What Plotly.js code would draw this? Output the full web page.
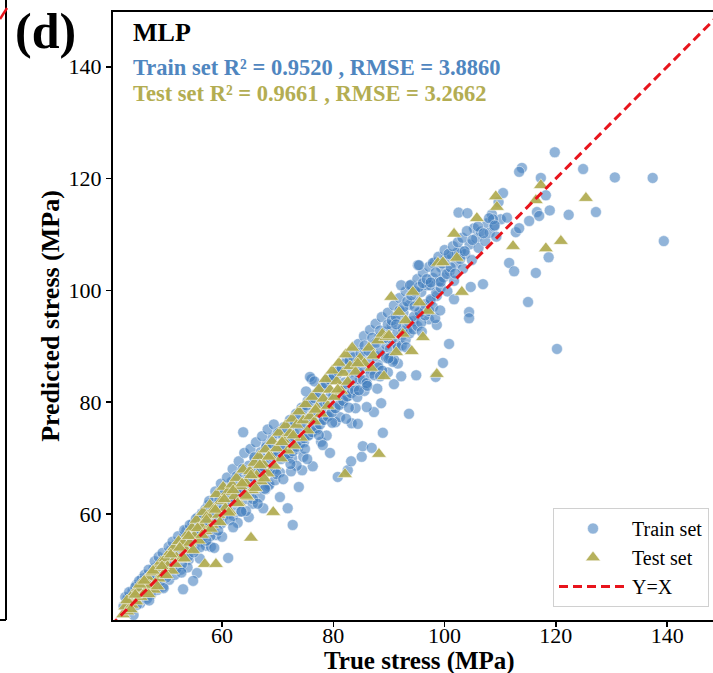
<!DOCTYPE html>
<html><head><meta charset="utf-8">
<script src="https://cdn.plot.ly/plotly-3.0.1.min.js"></script>
<style>html,body{margin:0;padding:0;overflow:hidden;background:#fff;width:713px;height:673px}#chart{width:722px;height:673px}</style>
</head><body><div id="chart"></div><script>
// ---- Train set (true, predicted) ----
const trainX = [
42.3,42.8,43.2,43.5,43.9,44.2,44.6,44.9,45.3,45.6,
45.9,46.3,46.6,47.0,47.3,47.7,48.0,48.4,48.7,49.1,
49.4,49.8,50.1,50.5,50.8,51.2,51.5,51.9,52.2,52.6,
43.0,44.0,45.0,46.0,47.0,48.0,49.0,50.0,51.0,52.0,
52.9,53.3,53.6,54.0,54.3,54.7,55.0,55.4,55.7,56.1,
56.4,56.8,57.1,57.5,57.8,58.2,58.5,58.9,59.2,59.6,
59.9,60.3,60.6,61.0,61.3,61.7,62.0,53.5,54.5,55.5,
56.5,57.5,58.5,59.5,60.5,61.5,53.8,56.0,58.0,60.0,
55.5,54.8,53.0,61.1,58.9,57.9,62.3,52.4,55.0,59.0,
62.4,62.7,63.1,63.4,63.8,64.1,64.5,64.8,65.2,65.5,
65.9,66.2,66.6,66.9,67.3,67.6,68.0,68.3,68.7,69.0,
69.4,69.7,70.1,70.4,70.8,71.1,63.0,64.0,65.0,66.0,
67.0,68.0,69.0,70.0,71.0,64.8,67.4,70.4,63.8,72.7,
71.8,73.8,74.4,65.5,66.8,68.5,69.5,62.8,64.3,67.8,
71.5,71.9,72.2,72.6,72.9,73.3,73.6,74.0,74.3,74.7,
75.0,75.4,75.7,76.1,76.4,76.8,77.1,77.5,77.8,78.2,
78.5,78.9,79.2,79.6,79.9,80.3,72.0,73.0,74.0,75.0,
76.0,77.0,78.0,79.0,80.0,76.3,79.4,80.8,82.6,83.2,
75.8,77.8,80.4,74.6,73.4,72.4,78.8,76.6,81.2,75.1,
80.6,81.0,81.3,81.7,82.0,82.4,82.7,83.1,83.4,83.8,
84.1,84.5,84.8,85.2,85.5,85.9,86.2,86.6,86.9,87.3,
87.6,88.0,88.3,88.7,89.0,89.4,81.5,82.5,83.5,84.5,
85.5,86.5,87.5,88.5,89.5,83.3,84.4,85.1,85.3,86.9,
88.9,88.6,87.3,86.0,84.0,82.3,90.9,89.8,91.6,87.9,
89.8,90.2,90.5,90.9,91.2,91.6,91.9,92.3,92.6,93.0,
93.3,93.7,94.0,94.4,94.7,95.1,95.4,95.8,96.1,96.5,
96.8,97.2,97.5,97.9,98.2,98.6,90.5,91.5,92.5,93.5,
94.5,95.5,96.5,97.5,98.5,93.6,92.2,94.9,98.4,99.7,
100.8,97.2,98.6,92.2,93.8,97.4,95.2,95.4,97.9,99.3,
99.0,99.4,99.8,100.2,100.5,100.9,101.3,101.7,102.1,102.5,
102.9,103.3,103.7,104.1,104.5,104.9,105.3,105.7,106.1,106.5,
106.9,107.3,107.7,108.1,108.5,108.9,109.3,109.7,110.1,110.5,
104.7,104.4,104.4,102.2,101.7,111.6,112.5,112.8,113.4,108.7,
113.9,113.4,119.8,124.9,130.6,137.4,139.4,120.2,127.2,122.3,
118.9,117.3,118.2,116.6,117.0,115.2,118.7,116.4,115.0,111.2,
42.6,43.3,43.7,44.4,44.7,45.1,45.5,46.1,46.5,46.8,
47.2,47.5,47.9,48.3,48.6,49.0,49.3,49.7,50.0,50.4,
50.7,51.1,51.4,51.8,52.1,52.5,52.8,53.2,53.5,53.9,
54.2,54.6,54.9,55.3,55.6,56.0,44.1,46.9,49.5,52.7,
56.3,56.7,57.0,57.4,57.7,58.1,58.4,58.8,59.1,59.5,
59.8,60.2,60.5,60.9,61.2,61.6,61.9,62.3,62.6,63.0,
63.3,63.7,64.0,64.4,64.7,65.1,65.4,65.8,66.1,66.5,
66.8,67.2,67.5,67.9,68.2,68.6,68.9,69.3,69.6,70.0,
57.2,59.3,61.4,63.5,65.6,67.7,69.8,58.6,62.0,66.4,
70.3,70.6,71.0,71.3,71.7,72.0,72.4,72.7,73.1,73.4,
73.8,74.1,74.5,74.8,75.2,75.5,75.9,76.2,76.6,76.9,
77.3,77.6,78.0,78.3,78.7,79.0,79.4,79.7,80.1,80.4,
80.8,81.1,81.5,81.8,82.2,82.5,82.9,83.2,83.6,83.9,
72.3,74.9,77.4,79.8,82.8,71.0,75.3,78.1,84.3,85.6,
84.2,84.6,84.9,85.3,85.6,86.0,86.3,86.7,87.0,87.4,
87.7,88.1,88.4,88.8,89.1,89.5,89.8,90.2,90.5,90.9,
91.2,91.6,91.9,92.3,92.6,93.0,93.3,93.7,94.0,94.4,
94.7,95.1,95.4,95.8,96.1,96.5,96.8,97.2,97.5,97.9,
86.1,88.4,90.7,93.1,95.9,98.3,99.2,91.3,94.6,89.9,
98.4,98.9,99.3,99.6,100.0,100.4,100.7,101.1,101.5,101.9,
102.4,102.8,103.2,103.6,104.0,105.0,106.0,107.0,108.0,109.0
];
const trainY = [
43.5,42.9,45.0,43.2,46.1,44.0,47.3,45.6,44.0,48.4,
46.8,45.2,48.9,47.5,45.6,50.2,48.3,46.4,51.0,49.6,
47.0,52.1,50.3,48.2,53.5,51.4,49.1,54.6,52.3,50.0,
44.8,45.1,46.5,47.8,48.3,49.9,50.8,51.6,52.9,53.8,
55.6,53.1,57.0,51.8,55.9,58.2,53.6,57.3,59.4,55.0,
60.1,58.2,54.3,61.6,57.4,59.9,62.4,56.2,60.8,63.5,
58.3,61.9,64.6,60.0,63.2,65.7,59.7,54.8,56.0,56.4,
57.9,58.6,60.0,60.7,61.8,62.6,50.4,52.0,54.1,55.9,
49.4,48.0,46.5,52.1,58.0,56.0,63.9,53.9,55.5,61.6,
61.5,66.0,64.2,60.4,67.3,62.6,65.9,68.6,63.4,67.0,
70.1,64.9,68.5,71.0,66.2,69.8,72.4,65.0,70.3,73.6,
68.0,71.6,74.7,67.4,72.2,75.5,63.8,65.0,66.1,67.3,
67.9,69.1,70.2,71.1,72.0,59.4,61.0,63.0,74.6,58.0,
61.0,64.8,67.8,61.8,63.0,65.2,66.0,58.4,60.5,64.4,
70.3,73.8,76.8,69.9,74.5,77.9,71.6,76.1,79.0,72.8,
77.0,80.2,74.2,84.1,78.3,81.4,75.1,79.2,82.6,76.8,
80.5,83.9,77.6,81.7,84.8,78.9,72.9,73.8,75.1,75.9,
77.0,78.0,79.1,80.0,81.2,68.5,70.9,66.6,67.8,69.4,
84.5,72.9,76.4,70.2,68.6,67.6,74.0,83.7,77.3,81.9,
84.9,81.3,86.0,79.9,83.5,87.6,81.1,85.4,89.0,82.7,
86.9,90.4,84.0,88.0,91.8,83.2,89.1,92.9,85.8,90.3,
94.0,86.7,91.6,95.2,88.4,92.6,82.0,83.2,84.1,85.3,
86.0,87.2,88.3,89.1,90.2,76.2,76.1,70.2,72.1,71.8,
74.5,79.8,78.2,79.1,78.9,77.0,83.2,85.3,86.9,82.4,
96.0,89.6,93.7,97.3,90.5,94.8,98.6,91.9,96.0,99.8,
93.0,97.4,101.0,94.5,98.6,102.0,95.9,99.7,103.1,96.8,
100.9,104.2,98.1,102.2,105.0,99.0,91.2,92.4,93.1,94.4,
95.3,96.1,97.5,98.4,99.6,77.9,84.6,84.8,84.5,87.0,
90.4,94.8,93.8,100.9,100.9,100.9,104.5,104.5,104.9,100.5,
101.6,104.1,102.3,105.6,99.8,103.4,106.3,101.7,104.8,113.9,
107.0,103.9,106.5,113.8,108.2,105.4,111.1,109.3,107.6,110.5,
101.1,108.8,112.0,110.3,113.6,111.4,109.6,115.8,112.7,117.4,
100.6,96.1,95.0,106.7,98.4,104.9,103.4,110.4,111.1,112.7,
121.9,121.2,124.7,121.7,120.2,120.1,108.8,89.5,114.0,113.5,
114.3,120.1,117.0,114.0,113.3,112.4,105.9,103.1,97.9,113.0,
45.1,46.0,42.8,46.9,43.7,48.0,46.3,49.1,44.8,50.0,
45.9,49.2,51.5,47.4,52.3,48.0,53.0,50.9,48.6,54.1,
51.5,55.0,52.8,50.2,56.0,53.6,51.0,57.1,54.6,52.3,
58.0,55.5,53.1,59.1,56.2,54.0,41.9,44.5,46.7,49.5,
59.5,56.0,60.8,58.5,62.3,57.3,61.2,64.0,58.9,62.5,
65.4,59.6,63.9,66.5,61.8,64.6,68.0,62.1,66.7,69.4,
64.6,68.0,70.9,63.6,67.4,71.6,66.7,70.1,72.8,65.9,
69.8,73.9,68.4,71.9,75.1,67.9,72.6,76.0,70.1,74.4,
55.2,57.0,58.9,60.4,62.6,64.5,67.1,53.9,57.6,61.8,
74.6,69.8,73.9,70.1,75.3,70.5,76.0,71.2,76.5,72.0,
77.9,72.6,78.6,73.5,79.4,74.0,80.1,74.6,80.7,75.3,
81.8,76.0,82.5,76.8,83.3,77.4,84.0,78.1,84.6,78.9,
85.5,79.5,86.0,80.2,86.9,81.0,87.4,81.6,88.0,82.1,
68.9,71.6,74.1,76.3,79.0,66.2,69.8,72.3,80.9,82.0,
86.9,82.1,88.8,84.0,90.1,83.4,89.2,85.1,91.5,84.8,
90.6,86.2,92.8,85.6,91.4,87.9,93.9,88.0,94.6,87.6,
95.3,89.7,96.4,90.1,97.0,91.2,98.0,92.3,99.1,93.0,
99.8,93.6,100.6,94.2,101.3,95.5,102.0,96.3,101.4,97.0,
82.9,84.6,87.2,89.8,92.6,95.0,96.4,93.9,97.1,87.8,
103.2,106.0,101.5,104.8,107.2,102.9,106.5,104.1,107.9,103.0,
108.6,105.6,109.4,107.0,110.6,109.0,111.4,110.2,112.9,111.6
];
// ---- Test set (true, predicted) ----
const testX = [
42.2,42.6,43.0,43.4,43.8,44.2,44.6,45.0,45.4,45.8,
46.2,46.6,47.0,47.4,47.8,48.2,48.6,49.0,49.4,49.8,
50.2,50.6,51.0,51.4,51.8,52.2,52.6,53.0,53.4,53.8,
54.2,54.6,55.0,55.4,55.8,56.2,56.6,57.0,57.4,57.8,
58.2,58.6,59.0,59.4,59.8,60.2,60.6,61.0,61.4,61.8,
62.2,62.6,63.0,63.4,63.8,64.2,64.6,56.9,58.9,65.2,
65.0,65.4,65.8,66.2,66.6,67.0,67.4,67.8,68.2,68.6,
69.0,69.4,69.8,70.2,70.6,71.0,71.4,71.8,72.2,72.6,
73.0,73.4,73.8,74.2,74.6,75.0,75.4,69.2,82.1,88.2,
75.8,76.2,76.6,77.0,77.4,77.8,78.2,78.6,79.0,79.4,
79.8,80.2,80.6,81.0,81.4,81.8,82.2,82.6,83.0,83.4,
84.0,84.8,85.6,86.4,87.2,88.0,88.8,89.5,91.3,92.5,
89.1,90.4,91.8,94.1,94.3,96.1,98.6,98.8,99.7,101.7,
102.2,103.1,105.8,109.2,109.4,112.3,116.4,117.3,118.2,120.9,
125.4,95.5,93.0,97.0,
42.9,43.6,44.4,45.2,46.0,46.8,47.6,48.4,49.2,50.0,
50.8,51.6,52.4,53.2,54.0,54.8,55.6,56.4,57.2,58.0,
58.8,59.6,60.4,61.2,62.0,62.8,63.6,64.4,65.2,66.0,
66.8,67.6,68.4,70.8,72.8,76.8,80.8,84.4,86.8,90.0
];
const testY = [
42.0,43.4,42.5,44.6,43.7,45.9,44.3,46.6,45.1,47.7,
46.0,48.6,47.1,49.5,46.4,50.3,48.4,51.4,49.1,52.0,
50.6,53.1,49.8,54.0,52.2,55.1,51.9,54.8,53.6,56.4,
54.8,57.5,56.0,58.9,55.2,57.8,60.3,56.9,59.7,61.6,
58.0,60.9,63.5,59.8,62.3,64.8,61.0,63.9,60.4,65.2,
63.1,66.4,62.0,64.9,67.9,65.6,63.0,51.0,51.0,55.7,
67.6,64.2,69.1,66.8,70.3,65.8,68.9,71.5,67.2,70.4,
73.0,68.6,71.7,74.5,69.9,73.2,75.8,71.3,74.4,77.0,
72.2,75.9,78.3,73.6,76.7,79.6,74.9,60.3,67.1,70.7,
77.4,80.9,76.5,79.0,82.3,77.9,80.6,84.1,79.3,82.2,
85.6,80.9,83.7,87.0,82.0,85.2,88.5,83.6,86.4,89.7,
85.4,87.8,86.9,89.7,88.3,91.0,92.2,91.6,88.9,92.2,
84.6,98.8,96.1,89.1,99.7,91.6,85.0,104.9,105.0,110.1,
105.8,99.7,112.9,116.8,114.9,107.9,116.1,118.8,107.5,108.8,
116.5,97.8,94.6,96.3,
44.5,42.9,45.5,47.3,48.0,45.6,49.8,47.0,50.6,49.0,
52.7,51.0,53.9,52.0,56.0,53.5,57.4,56.2,58.9,57.3,
60.7,58.5,62.6,60.2,64.2,61.9,65.4,63.2,66.9,64.6,
68.7,66.3,70.2,72.8,74.0,78.6,82.2,86.9,86.1,91.9
];
const refLine = [40, 150];
const tickVals = [60, 80, 100, 120, 140];
const seriesNames = ['Train set', 'Test set', 'Y=X'];
const panelLabel = '(d)';
const modelName = 'MLP';
const xTitle = 'True stress (MPa)';
const yTitle = 'Predicted stress (MPa)';
const trainMetrics = 'Train set R² = 0.9520 , RMSE = 3.8860';
const testMetrics = 'Test set R² = 0.9661 , RMSE = 3.2662';

const SERIF = 'Liberation Serif, Times New Roman, serif';
const W = 722, H = 673, ML = 113, MR = 2, MT = 12, MB = 53;
const PW = W - ML - MR, PH = H - MT - MB;
const px = v => (v - ML) / PW;
const py = v => (H - MB - v) / PH;

const traces = [
  {x: trainX, y: trainY, type: 'scatter', mode: 'markers', name: seriesNames[0],
   marker: {symbol: 'circle', size: 11, color: 'rgba(66,126,190,0.58)', line: {color: 'rgba(255,255,255,0.8)', width: 0.6}}},
  {x: testX, y: testY, type: 'scatter', mode: 'markers', name: seriesNames[1],
   marker: {symbol: 'triangle-up', size: 13, color: 'rgba(176,170,78,0.92)', line: {color: 'rgba(255,255,255,0.9)', width: 0.6}}},
  {x: refLine, y: refLine, type: 'scatter', mode: 'lines', name: seriesNames[2],
   line: {color: '#e8141c', width: 3, dash: '9px,5px'}}
];

const layout = {
  width: W, height: H,
  margin: {l: ML, r: MR, t: MT, b: MB},
  paper_bgcolor: '#fff', plot_bgcolor: '#fff',
  font: {family: SERIF, color: '#000', size: 20},
  showlegend: true,
  legend: {x: px(709), y: py(607), xanchor: 'right', yanchor: 'bottom',
    bgcolor: 'rgba(255,255,255,0.85)', bordercolor: '#d0d0d0', borderwidth: 1,
    font: {family: SERIF, size: 20, color: '#000'}, itemwidth: 68},
  xaxis: {range: [40.4, 149.5], tickvals: tickVals, ticks: 'outside', ticklen: 5, tickwidth: 1.5,
    tickcolor: '#000', showline: true, linecolor: '#000', linewidth: 2, mirror: true,
    showgrid: false, zeroline: false, automargin: false, ticklabelstandoff: -10,
    tickfont: {family: SERIF, size: 22, color: '#000'}},
  yaxis: {range: [41.0, 149.8], tickvals: tickVals, ticks: 'outside', ticklen: 5, tickwidth: 1.5,
    tickcolor: '#000', showline: true, linecolor: '#000', linewidth: 2, mirror: true,
    showgrid: false, zeroline: false, automargin: false,
    tickfont: {family: SERIF, size: 22, color: '#000'},
    title: {text: '<b>' + yTitle + '</b>', font: {family: SERIF, size: 26, color: '#000'}, standoff: 1}},
  annotations: [
    {xref: 'paper', yref: 'paper', x: px(419), y: py(661), xanchor: 'center', yanchor: 'middle',
     text: '<b>' + xTitle + '</b>', showarrow: false, font: {family: SERIF, size: 25, color: '#000'}},
    {xref: 'paper', yref: 'paper', x: px(13), y: py(31), xanchor: 'left', yanchor: 'middle',
     text: '<b>' + panelLabel + '</b>', showarrow: false, font: {family: SERIF, size: 50, color: '#000'}},
    {xref: 'paper', yref: 'paper', x: px(131), y: py(32), xanchor: 'left', yanchor: 'middle',
     text: '<b>' + modelName + '</b>', showarrow: false, font: {family: SERIF, size: 26, color: '#000'}},
    {xref: 'paper', yref: 'paper', x: px(131), y: py(68), xanchor: 'left', yanchor: 'middle',
     text: '<b>' + trainMetrics + '</b>', showarrow: false, font: {family: SERIF, size: 22.5, color: '#4f86bf'}},
    {xref: 'paper', yref: 'paper', x: px(131), y: py(93), xanchor: 'left', yanchor: 'middle',
     text: '<b>' + testMetrics + '</b>', showarrow: false, font: {family: SERIF, size: 22.5, color: '#b3ad52'}}
  ],
  shapes: [
    {type: 'line', xref: 'paper', yref: 'paper', x0: px(6), x1: px(6), y0: py(620), y1: py(0), line: {color: '#000', width: 2}},
    {type: 'line', xref: 'paper', yref: 'paper', x0: px(0), x1: px(6), y0: py(620), y1: py(620), line: {color: '#000', width: 2}},
    {type: 'line', xref: 'paper', yref: 'paper', x0: px(0), x1: px(7), y0: py(19), y1: py(8), line: {color: '#e8141c', width: 2.5}}
  ]
};

Plotly.newPlot('chart', traces, layout, {displayModeBar: false, staticPlot: true});
</script></body></html>
